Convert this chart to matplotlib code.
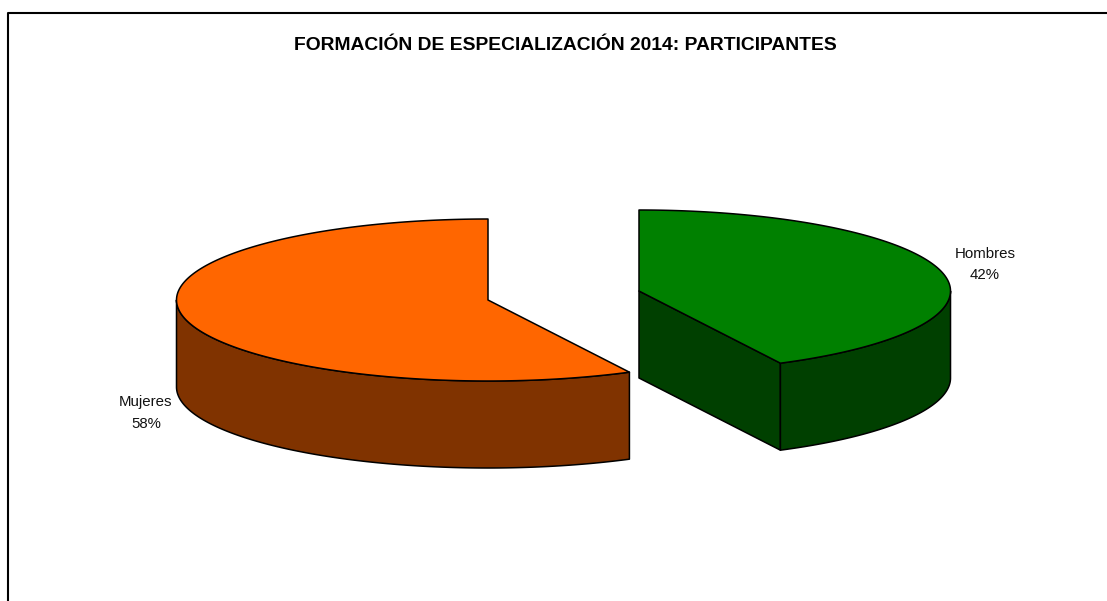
import numpy as np
import matplotlib
matplotlib.use("Agg")
import matplotlib.pyplot as plt
from matplotlib.patches import Polygon

title = "FORMACIÓN DE ESPECIALIZACIÓN 2014: PARTICIPANTES"
labels = ["Hombres", "Mujeres"]
shares = [42.5, 57.5]
top_colors = ["#008000", "#FF6600"]
side_colors = ["#004000", "#803300"]

W, H = 1107, 601
RX, RY, DEPTH = 311.5, 81, 87
green_c = (639, 291)
orange_c = (488, 300)


def rim(c, t0, t1, dz=0):
    # angles clockwise from the top of the ellipse, in degrees
    t = np.radians(np.linspace(t0, t1, 200))
    return np.column_stack([c[0] + RX * np.sin(t), c[1] - RY * np.cos(t) + dz])


def poly(ax, pts, color):
    ax.add_patch(Polygon(pts, closed=True, facecolor=color, edgecolor="black",
                         linewidth=1.1, joinstyle="round"))


plt.rcParams["font.family"] = ["Liberation Sans", "DejaVu Sans"]

fig = plt.figure(figsize=(W / 100, H / 100), dpi=100)
ax = fig.add_axes([0, 0, 1, 1])
ax.set_xlim(0, W)
ax.set_ylim(H, 0)
ax.axis("off")

# chart frame
ax.plot([7.5, 7.5, W], [H, 12.5, 12.5], color="black", lw=1.5)

ang = shares[0] * 3.6

# green slice, first going clockwise from the top
c = np.array(green_c)
edge = rim(c, 0, ang)[-1]
poly(ax, [c, edge, edge + [0, DEPTH], c + [0, DEPTH]], side_colors[0])
poly(ax, np.vstack([rim(c, 90, ang), rim(c, ang, 90, DEPTH)]), side_colors[0])
poly(ax, np.vstack([[c], rim(c, 0, ang)]), top_colors[0])

# orange slice, the rest of the circle
c = np.array(orange_c)
poly(ax, np.vstack([rim(c, ang, 270), rim(c, 270, ang, DEPTH)]), side_colors[1])
poly(ax, np.vstack([[c], rim(c, ang, 360)]), top_colors[1])

ax.text(565.5, 46, title, ha="center", va="center", fontsize=13.85, fontweight="bold", color="black")
ax.text(985, 254, labels[0], ha="center", va="center", fontsize=10.8, color="#111111")
ax.text(985, 275, f"{round(shares[0] - 0.5)}%", ha="center", va="center", fontsize=10.8, color="#111111")
ax.text(146, 402, labels[1], ha="center", va="center", fontsize=10.8, color="#111111")
ax.text(146, 424, f"{round(shares[1] + 0.5)}%", ha="center", va="center", fontsize=10.8, color="#111111")

fig.savefig("out.png", dpi=100, facecolor="white")
